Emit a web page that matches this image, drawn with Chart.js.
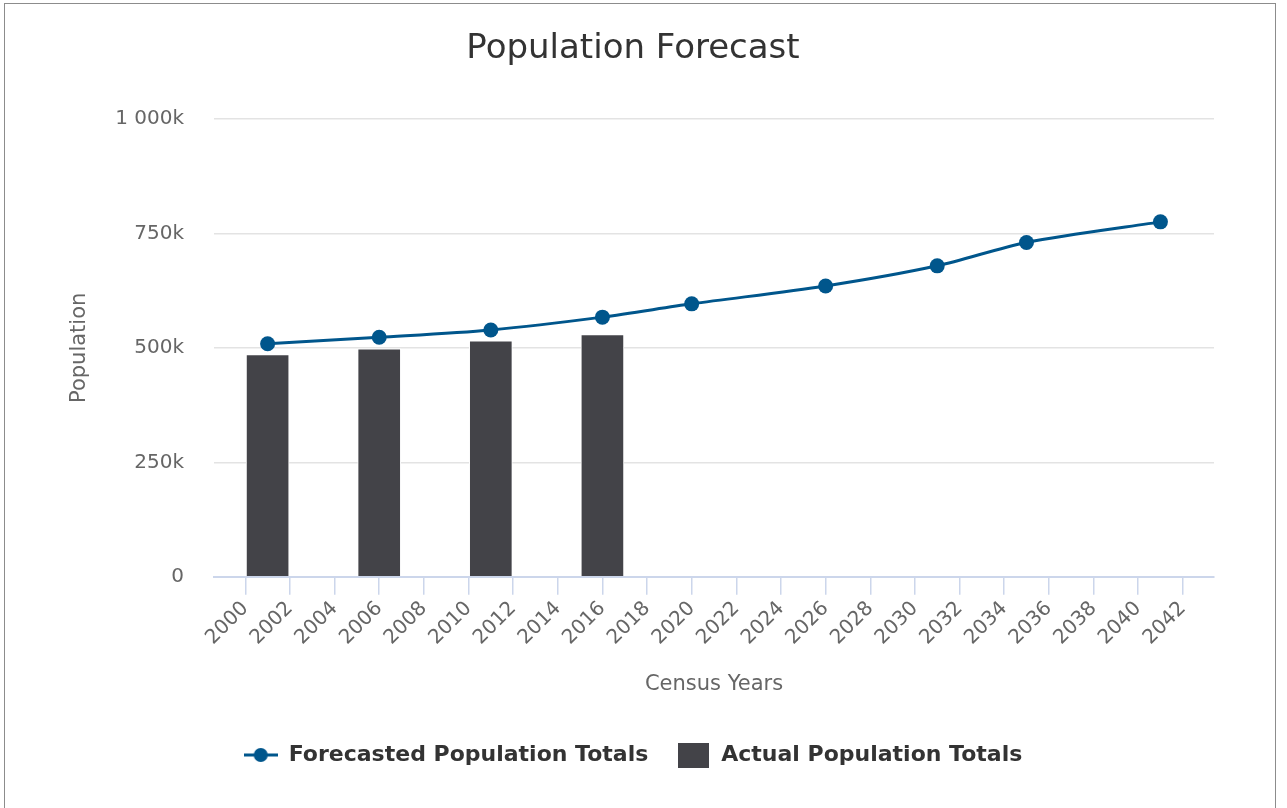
<!DOCTYPE html>
<html>
<head>
<meta charset="utf-8">
<title>Population Forecast</title>
<script src="https://cdn.jsdelivr.net/npm/chart.js@4.4.1/dist/chart.umd.min.js"></script>
<style>
  body { margin: 0; background: #fff; }
  #box { position: absolute; left: 4px; top: 3px; width: 1270px; height: 820px; border: 1px solid #8c8c8c; }
  #wrap { width: 1270px; height: 805px; }
</style>
</head>
<body>
<div id="box"><div id="wrap"><canvas id="chart"></canvas></div></div>
<script>
// census years and values
const forecastYears = [2001, 2006, 2011, 2016, 2020, 2026, 2031, 2035, 2041];
const forecast = [509000, 523000, 539000, 567000, 596000, 635000, 679000, 730000, 775000];
const actualYears = [2001, 2006, 2011, 2016];
const actual = [485000, 498000, 515000, 529000];
const xTickYears = [2000, 2002, 2004, 2006, 2008, 2010, 2012, 2014, 2016, 2018, 2020,
  2022, 2024, 2026, 2028, 2030, 2032, 2034, 2036, 2038, 2040, 2042];
const yTickValues = [0, 250000, 500000, 750000, 1000000];
const yTickLabels = ['0', '250k', '500k', '750k', '1 000k'];

const lineColor = '#00568c';
const barColor = '#434348';
const font = 'DejaVu Sans';

Chart.defaults.font.family = font;

// legend icons
const lineIcon = document.createElement('canvas');
lineIcon.width = 34; lineIcon.height = 16;
let c = lineIcon.getContext('2d');
c.strokeStyle = lineColor; c.lineWidth = 3;
c.beginPath(); c.moveTo(0, 8); c.lineTo(34, 8); c.stroke();
c.fillStyle = lineColor;
c.beginPath(); c.arc(17, 8, 7, 0, Math.PI * 2); c.fill();

const boxIcon = document.createElement('canvas');
boxIcon.width = 31; boxIcon.height = 25;
c = boxIcon.getContext('2d');
c.fillStyle = barColor; c.fillRect(0, 0, 31, 25);

new Chart(document.getElementById('chart'), {
  type: 'bar',
  data: {
    datasets: [
      {
        type: 'line',
        label: 'Forecasted Population Totals',
        data: forecastYears.map((x, i) => ({ x: x, y: forecast[i] })),
        borderColor: lineColor,
        backgroundColor: lineColor,
        borderWidth: 3,
        pointRadius: 7.5,
        pointHoverRadius: 7.5,
        pointBorderWidth: 0,
        tension: 0.3,
        order: 0
      },
      {
        type: 'bar',
        label: 'Actual Population Totals',
        data: actualYears.map((x, i) => ({ x: x, y: actual[i] })),
        backgroundColor: barColor,
        borderColor: '#ffffff',
        borderWidth: 1,
        barThickness: 43,
        grouped: false,
        order: 1
      }
    ]
  },
  options: {
    responsive: true,
    maintainAspectRatio: false,
    animation: false,
    layout: { padding: { left: 47, right: 61, top: 0, bottom: 33 } },
    plugins: {
      title: {
        display: true,
        text: 'Population Forecast',
        color: '#333333',
        font: { size: 34, weight: 'normal' },
        padding: { top: 25, bottom: 49 }
      },
      legend: {
        position: 'bottom',
        labels: {
          color: '#333333',
          font: { size: 22, weight: 'bold' },
          usePointStyle: true,
          pointStyleWidth: 34,
          padding: 28,
          generateLabels(chart) {
            const items = Chart.defaults.plugins.legend.labels.generateLabels(chart);
            items[0].pointStyle = lineIcon;
            items[1].pointStyle = boxIcon;
            return items;
          }
        }
      },
      tooltip: { enabled: false }
    },
    scales: {
      x: {
        type: 'linear',
        offset: false,
        min: 1998.6,
        max: 2043.4,
        afterBuildTicks(scale) {
          scale.ticks = xTickYears.map(v => ({ value: v }));
        },
        ticks: {
          color: '#666666',
          font: { size: 20 },
          minRotation: 45,
          maxRotation: 45,
          autoSkip: false,
          padding: 2,
          callback: v => String(v)
        },
        grid: {
          offset: false,
          drawOnChartArea: false,
          drawTicks: true,
          tickLength: 18,
          color: '#ccd6eb',
          lineWidth: 1.5
        },
        border: { display: true, color: '#ccd6eb', width: 2 },
        title: {
          display: true,
          text: 'Census Years',
          color: '#666666',
          font: { size: 21 },
          padding: { top: 20, bottom: 19 }
        }
      },
      y: {
        min: 0,
        max: 1000000,
        afterBuildTicks(scale) {
          scale.ticks = yTickValues.map(v => ({ value: v }));
        },
        ticks: {
          color: '#666666',
          font: { size: 20 },
          padding: 30,
          callback: v => yTickLabels[yTickValues.indexOf(v)]
        },
        grid: {
          drawTicks: false,
          color: '#e3e3e3',
          lineWidth: 1.5
        },
        border: { display: false },
        title: {
          display: true,
          text: 'Population',
          color: '#666666',
          font: { size: 21 },
          padding: { top: 15, bottom: -7 }
        }
      }
    }
  }
});
</script>
</body>
</html>
